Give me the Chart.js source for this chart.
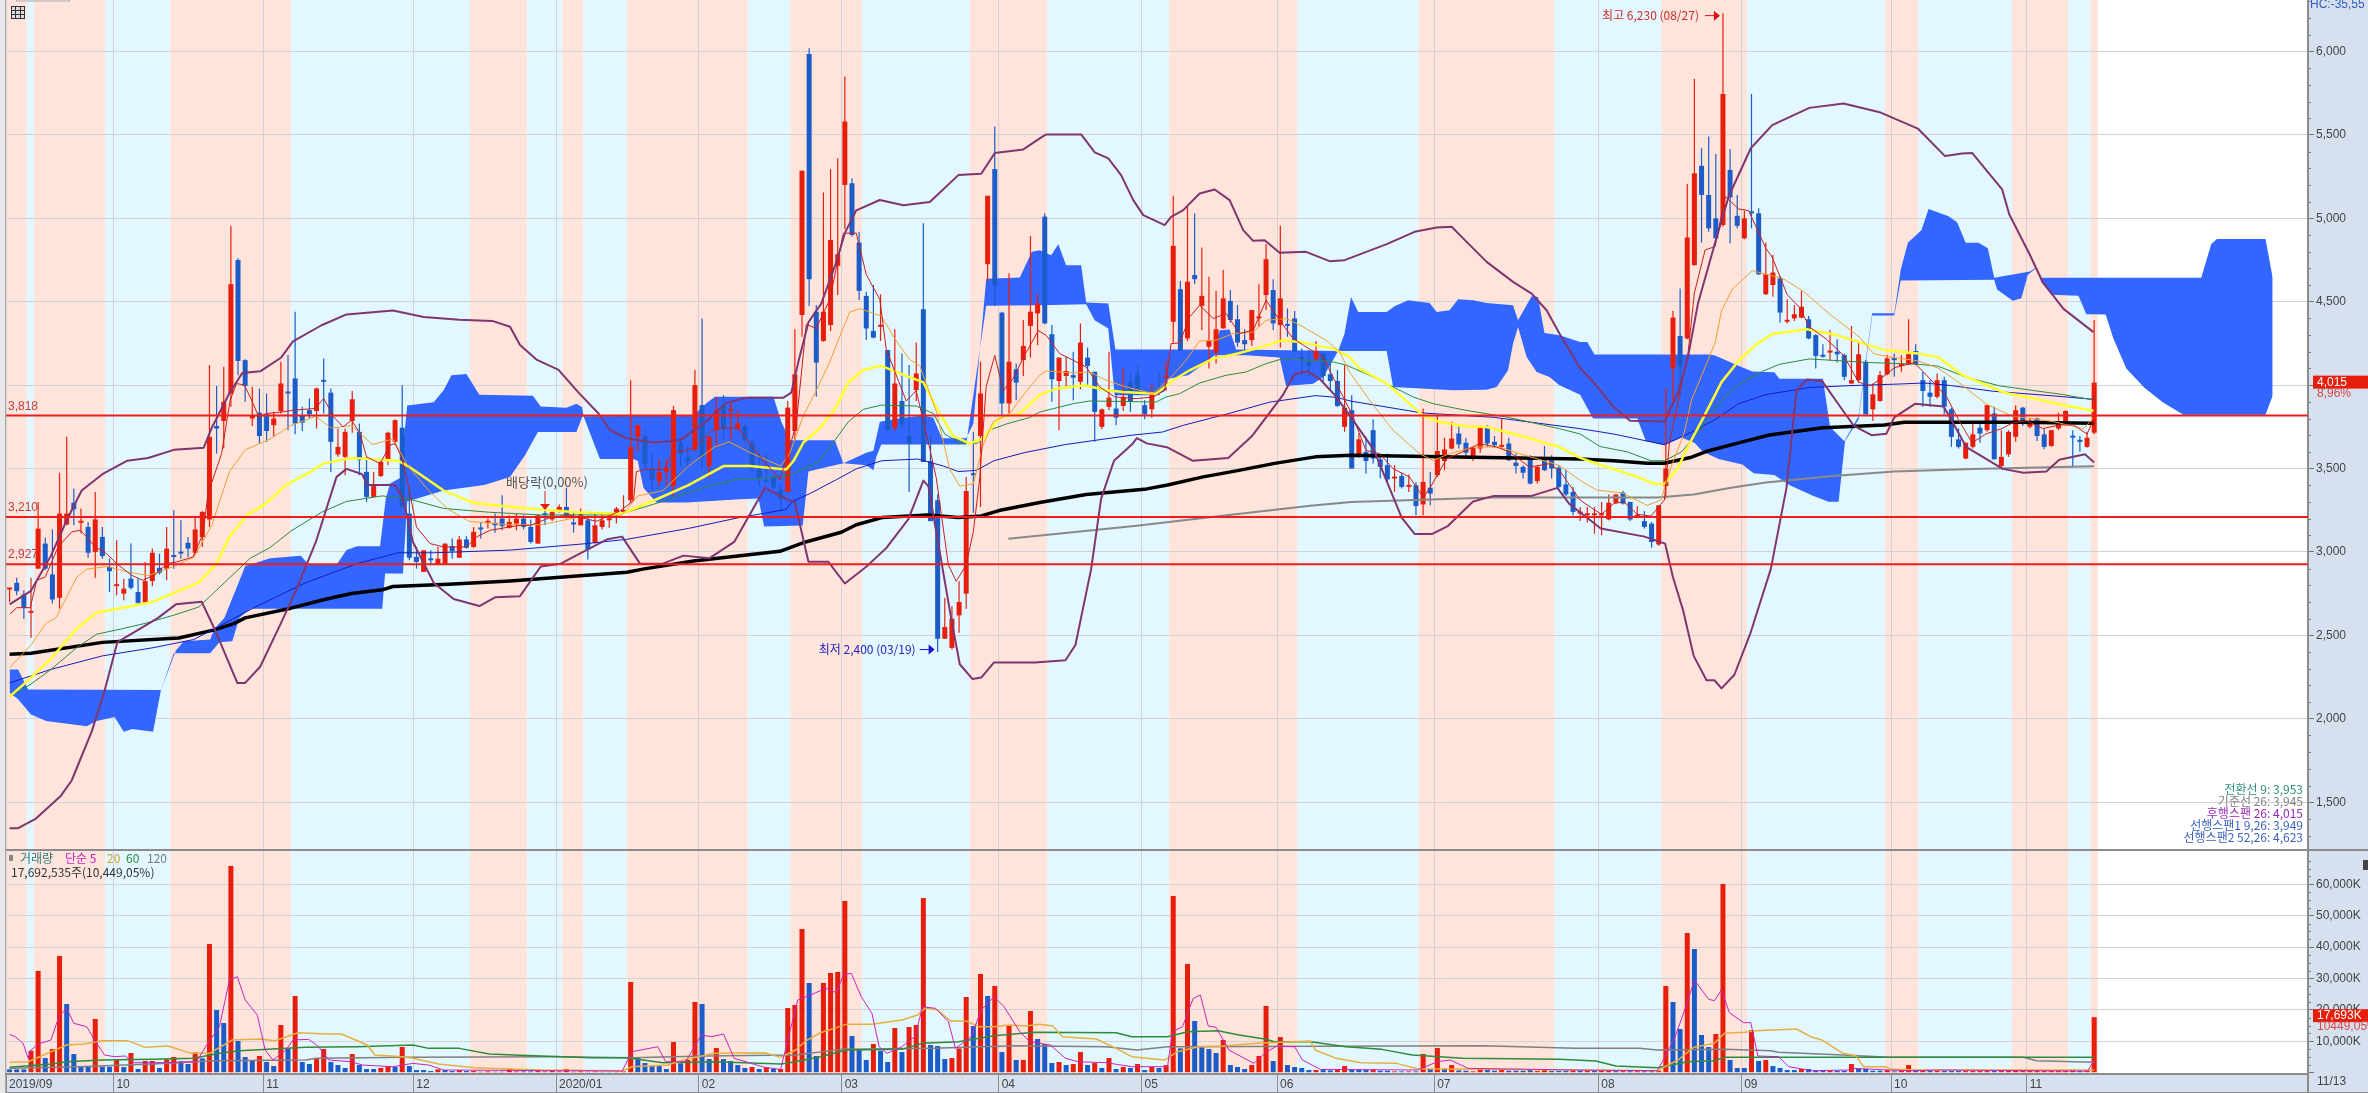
<!DOCTYPE html>
<html>
<head>
<meta charset="utf-8">
<title>chart</title>
<script src="https://cdn.jsdelivr.net/npm/chart.js@4/dist/chart.umd.min.js"></script>
<style>
html,body{margin:0;padding:0;background:#fff;overflow:hidden}
canvas{display:block}
</style>
</head>
<body>
<canvas id="c" width="2368" height="1093"></canvas>
<script>
// candles, bar 0 is the first one on the left
const opens = [2775,2815,2745,2635,2900,3050,2865,2725,3165,3295,
3175,3150,3000,3090,2910,2795,2750,2840,2760,2695,
2825,2905,2900,2975,2995,3055,2995,3090,3195,3755,
3785,3950,4750,4150,3800,3835,3825,3760,3845,3960,
4040,3820,3850,3845,4030,3955,3585,3570,3785,3720,
3480,3330,3455,3545,3660,3745,3230,2970,2880,2955,
2925,2930,3035,2965,3075,3030,3140,3175,3175,3200,
3145,3170,3200,3150,3050,3225,3195,3240,3270,3170,
3160,3190,3055,3150,3190,3235,3240,3310,3690,3695,
3490,3425,3480,3395,3655,3565,3615,3880,3515,3730,
3880,3845,3740,3755,3655,3495,3425,3450,3370,3360,
3725,4420,5985,4440,4265,4360,4715,5200,5210,4855,
4535,4325,4350,4210,3745,3905,3695,3970,4455,3545,
3310,2480,2425,2620,2750,3470,3695,4725,5295,4435,
3890,4095,4150,4355,4430,5010,4305,4025,4055,4060,
4020,4165,4080,3750,3870,3860,3875,4020,4060,3880,
3855,3975,4045,4380,4575,4280,4660,4475,4230,4195,
4340,4505,4395,4270,4270,4400,4540,4570,4360,4360,
4400,4160,4140,4155,4190,4065,4025,3750,3850,3570,
3600,3730,3555,3520,3440,3455,3390,3400,3285,3385,
3460,3545,3620,3710,3655,3570,3620,3750,3660,3630,
3650,3535,3510,3575,3425,3550,3550,3505,3405,3360,
3230,3220,3220,3220,3195,3295,3355,3300,3210,3185,
3170,3045,3395,4100,4295,4280,4720,5315,5140,5000,
4960,5290,5015,4880,5040,5030,4545,4600,4640,4380,
4400,4405,4395,4300,4175,4195,4200,4180,4010,4030,
4140,3855,3905,4065,4160,4115,4125,4205,4030,3955,
3930,4030,3855,3675,3560,3630,3745,3730,3830,3515,
3585,3690,3865,3750,3800,3705,3635,3740,3770,3695,
3665,3630,3715];
const highs = [2780,2845,2770,2845,3300,3085,3135,3475,3690,3380,
3260,3180,3360,3150,2960,3070,2840,3050,2840,2940,
3020,2990,3150,3250,3190,3090,3210,3245,4120,3995,
4110,4955,4760,4155,3990,3980,3950,3840,4140,4180,
4440,3870,3920,3985,4160,3980,3740,3740,3965,3770,
3570,3480,3545,3720,3795,4000,3370,3030,3010,3010,
3030,3050,3080,3095,3095,3150,3180,3200,3230,3340,
3220,3230,3220,3195,3225,3270,3245,3285,3385,3245,
3260,3210,3235,3240,3235,3270,3340,4030,3765,3730,
3590,3555,3555,3875,3680,3630,4090,4400,3690,3930,
3940,3895,3850,3770,3670,3595,3595,3460,3395,3905,
4335,5285,6020,4480,5155,5295,5360,5850,5240,4920,
4560,4600,4545,4210,4335,4190,4120,4255,4970,3695,
3345,2725,2675,2825,3450,3720,4140,5135,5550,4440,
4670,4130,4390,4895,4550,5030,4360,4165,4170,4200,
4370,4225,4080,3860,4200,3950,4100,4070,4120,3910,
4010,4080,4150,5135,4625,5070,5030,4825,4650,4565,
4690,4570,4480,4335,4450,4605,4845,4635,4955,4460,
4445,4220,4210,4265,4195,4130,4090,4120,3940,3710,
3690,3795,3590,3590,3520,3475,3465,3420,3860,3480,
3820,3685,3780,3750,3685,3630,3745,3760,3695,3795,
3685,3590,3520,3580,3520,3635,3580,3520,3495,3390,
3270,3270,3270,3300,3345,3345,3365,3300,3275,3245,
3180,3280,3980,4445,4580,5205,5835,5420,5490,5385,
6230,5415,5140,5045,5745,5060,4855,4780,4655,4515,
4480,4565,4415,4305,4245,4330,4275,4190,4355,4265,
4150,4010,4085,4180,4190,4180,4395,4245,4080,4030,
4070,4050,3865,3740,3655,3770,3780,3880,3870,3730,
3730,3880,3870,3805,3805,3740,3730,3835,3850,3730,
3695,3720,4390];
const lows = [2700,2740,2600,2485,2900,2890,2690,2660,3160,3160,
3110,2965,2845,2960,2760,2740,2710,2775,2680,2695,
2795,2865,2830,2900,2960,2970,2980,3030,3150,3590,
3620,3870,4060,3900,3755,3650,3660,3695,3830,3730,
3705,3725,3800,3740,3830,3480,3570,3460,3715,3460,
3300,3330,3450,3520,3640,3270,2950,2900,2880,2920,
2920,2925,2960,2965,3020,3025,3080,3140,3115,3130,
3140,3130,3135,3050,3050,3160,3185,3235,3200,3115,
3160,2955,3050,3135,3145,3170,3235,3295,3605,3495,
3370,3395,3395,3335,3515,3505,3605,3495,3445,3630,
3670,3670,3730,3655,3480,3395,3420,3370,3245,3360,
3670,4290,4475,3930,4260,4325,4540,4935,4890,4510,
4270,4280,4265,3730,3725,3745,3360,3905,3540,3185,
2400,2480,2415,2515,2660,3235,3270,4625,4475,3800,
3830,3910,4055,4165,4240,4365,3900,3730,3995,3910,
3975,3990,3660,3735,3850,3760,3845,3840,3940,3795,
3805,3940,3970,4255,4205,4265,4605,4330,4100,4130,
4340,4375,4230,4200,4235,4350,4450,4330,4225,4290,
4190,4060,4050,4150,4020,3970,3870,3720,3500,3565,
3470,3530,3440,3420,3360,3380,3360,3220,3220,3280,
3450,3490,3615,3620,3560,3545,3595,3630,3625,3620,
3545,3470,3440,3405,3410,3485,3440,3380,3335,3220,
3185,3175,3110,3100,3190,3290,3285,3185,3205,3140,
3025,3035,3320,3900,3930,4275,4715,4855,4920,4875,
4950,4850,4940,4875,4940,4660,4540,4530,4375,4370,
4385,4400,4275,4100,4165,4145,4135,4030,4005,4015,
3825,3785,3900,4060,4050,4080,4120,4120,3870,3870,
3920,3825,3630,3620,3555,3620,3655,3720,3555,3510,
3570,3660,3755,3740,3665,3615,3630,3730,3760,3515,
3600,3625,3705];
const closes = [2780,2765,2665,2640,3140,2900,2715,3230,3230,3255,
3180,2995,3195,2975,2885,2800,2780,2785,2695,2825,
2995,2875,3020,2970,2990,3020,3135,3240,3690,3740,
3900,4605,4145,3995,3815,3695,3725,3800,4010,3950,
3770,3775,3825,3980,4020,3660,3630,3720,3915,3550,
3330,3395,3540,3715,3790,3270,2965,2940,3010,2950,
2960,3050,3005,3075,3025,3120,3135,3180,3160,3155,
3180,3200,3150,3060,3220,3220,3240,3270,3220,3165,
3225,3015,3160,3190,3195,3260,3245,3630,3760,3530,
3430,3480,3505,3850,3590,3545,4000,3565,3690,3850,
3740,3850,3770,3670,3500,3440,3420,3385,3320,3865,
4065,5285,4635,4135,4440,4870,4785,5580,4900,4565,
4340,4285,4355,3730,4010,3770,3650,4070,3540,3185,
2480,2550,2600,2700,3365,3460,3950,5135,4600,3890,
4140,4015,4235,4440,4490,4370,4035,4165,4085,4045,
4255,4115,3840,3855,3925,3805,3930,3900,3945,3825,
3955,3955,4050,4835,4205,4620,4635,4535,4265,4335,
4520,4390,4255,4245,4450,4405,4755,4370,4520,4355,
4200,4155,4115,4205,4055,4025,3875,3865,3500,3675,
3545,3560,3510,3435,3445,3390,3395,3275,3420,3350,
3605,3615,3680,3645,3595,3625,3745,3650,3640,3635,
3550,3515,3475,3410,3510,3490,3500,3390,3345,3240,
3235,3225,3225,3225,3295,3345,3290,3195,3215,3150,
3060,3280,3500,4405,4110,4885,5270,5140,4940,4880,
5745,5125,4955,5000,5030,4665,4665,4675,4435,4385,
4425,4470,4280,4175,4170,4200,4185,4050,4030,4185,
3825,3945,4060,4160,4150,4120,4185,4125,3965,3930,
4030,3870,3690,3630,3655,3705,3710,3880,3555,3570,
3720,3850,3785,3770,3695,3630,3730,3785,3845,3685,
3660,3685,4015];

// volume in thousands of shares, R = red bar, B = blue bar
const volumes = [1060,1060,1060,7000,32400,4670,7540,37170,21880,5950,
1910,1910,17100,1910,1910,4040,1800,6270,1170,3720,
3720,1490,4250,4990,3610,2760,6480,4570,40990,19970,
15820,65840,10090,4990,3820,5310,3400,2120,15190,7750,
24430,3400,2760,4570,7540,3400,2440,1490,5950,2440,
1170,1170,1490,2020,1810,8180,2120,850,850,530,
1060,850,530,850,530,530,320,420,320,320,
1170,420,420,420,530,420,530,420,1170,320,
420,320,420,320,320,320,420,28890,4670,3080,
2120,2120,1170,9770,2970,4040,22510,21880,4350,7860,
4350,3720,2440,1490,1810,1170,1810,1170,1170,20600,
21560,45770,28570,5310,28570,31750,32070,54690,11680,7220,
4040,9130,7010,3400,14230,6580,14550,15190,55650,8810,
8500,4350,4670,7750,24110,14870,31440,24430,27610,6580,
14870,4040,4040,19650,10730,9130,3080,3400,2440,2760,
6580,2440,3080,1490,4670,1170,1810,1490,2760,850,
1810,1490,2440,56290,7750,34620,16460,8500,7540,6270,
10410,2440,1810,1170,2440,5310,21240,3720,11360,2440,
1810,1490,850,850,1060,740,1060,2120,1060,950,
950,1060,640,640,420,420,420,420,5950,1170,
7860,1270,2440,740,640,420,1170,850,640,1170,
640,640,640,850,530,950,530,530,640,950,
640,640,530,640,740,530,640,530,530,640,
640,640,27610,22510,13910,44500,39400,12000,8180,12320,
60110,4040,1490,1490,13590,3720,4040,2120,1490,850,
850,1170,1170,640,640,640,640,640,2760,1170,
1170,640,640,850,420,640,2440,640,640,640,
640,530,530,530,530,530,530,530,530,530,
530,850,530,530,530,530,530,530,530,850,
530,640,17690];
const volumeSides = ("BBBRRBRRBB"+"BBRBBRBRBR"+"RBRRBBRBRB"+"BRBBBRBBRB"+"RBBRRBBBRB"+"BBRRBRBBBB"+"RBBRBRBRBB"+"RRBBRRRRRB"+"RBRBBRRRBB"+"BBBRBRRBBR"
+"BBBBRBRBRR"+"RRBBRRRRBB"+"BRBBRBRRRB"+"BBRRRBRBRB"+"RBRRBBBRBR"+"RBRBRBRBRB"+"RBRRBRBBBB"+"RBBBRRRBRB"+"BBBRBBRRBB"+"BRBBRBRBRB"
+"RBRBBRRBBR"+"BBBBRRBBBR"+"BRBRRBRBRB"+"BRRBBRBBBR"+"RBBBRBRBBB"+"BRBBBRBBRB"+"BBBRBRRBRB"+"RBBBRRRRBR"+"RRRRRRRRRR"+"BRR").split("");

// overlays as [bar, value]
const ma5Line = [[0.1,2630],[1,2666],[2.9,2666],[3.8,2830],[5,2850],[6.8,3030],[8.7,3120],[9.9,3130],[10.8,3090],[12,3030],[13.6,2990],[15,2930],[17.1,2860],[18.7,2830],[20.6,2870],[22,2930],[23.4,2940],[25.7,2970],[27.1,3110],[27.8,3350],[29.7,3590],[30.9,3910],[31.8,4010],[32.9,4000],[33.9,3910],[34.9,3810],[36,3830],[38.3,3840],[39.7,3850],[42.8,3860],[44,3920],[45.4,3810],[46.7,3750],[47.9,3790],[49.1,3710],[50,3570],[51.9,3530],[53.3,3640],[54,3650],[54.9,3570],[55.8,3410],[57,3150],[58.9,3050],[60.8,3030],[64,3030],[65.4,3090],[67.3,3130],[71.5,3160],
[72.9,3159],[75.9,3209],[78.5,3221],[82.2,3184],[85.5,3246],[87.4,3308],[87.8,3482],[89,3495],[91.6,3495],[93,3594],[95.8,3619],[98.8,3743],[102.1,3743],[104.2,3619],[107.9,3433],[109.3,3632],[110.2,3768],[111.6,4365],[113,4340],[114.9,4514],[116.8,4911],[118.6,4911],[120,4663],[121.9,4514],[122.8,4215],[125.6,3905],[127,3967],[128.9,3619],[129.8,3445],[131.5,2923],[132.6,2824],[134,2923],[135,3122],[135.9,3445],[136.8,3992],[138,4178],[139.2,3967],[140.6,4041],[142,4165],[144.1,4327],
[145.2,4299],[147.1,4189],[149,4149],[150.8,4109],[152.7,3989],[154.8,3929],[157.8,3919],[160.2,3929],[161.8,3969],[162.7,4249],[163.9,4253],[165.3,4409],[166.7,4479],[168.6,4399],[170.4,4429],[172.3,4309],[174.2,4329],[176,4509],[177.9,4389],[179.8,4279],[181.6,4229],[184,4169],[185.6,4029],[188,3829],[190,3609],[191.9,3589],[193.8,3499],[196.1,3449],[198,3329],[198.9,3379],[201.3,3559],[204,3609],[205.9,3649],[208.3,3629],[210.1,3599],[212.9,3509],[215.7,3529],[217.1,3489],
[220,3311],[221.8,3258],[223,3226],[224.7,3290],[226.1,3301],[228,3226],[229.9,3215],[231.8,3311],[232.5,3654],[235.1,4189],[236,4553],[237.5,4810],[238.9,4831],[240.3,5131],[242.2,5056],[243.6,5046],[246,4821],[246.9,4767],[249,4542],[250.7,4467],[252.1,4350],[254.5,4275],[256.9,4178],[259,4018],[260.7,3996],[262.1,4039],[264,4104],[266.8,4135],[269.7,4007],[271.3,3932],[273,3793],[274.9,3654],[276.8,3707],[279.1,3740],[280.5,3772],[282.5,3787],[284.8,3740],[287.2,3761],[289.1,3761],[291,3707],[292,3804]];
const ma20Line = [[0,2306],[3,2442],[5.1,2572],[6.5,2605],[9.4,2848],[10.8,2897],[13.7,2913],[16.5,2881],[19.4,2858],[23,2913],[25.8,2969],[28.3,3157],[30.8,3482],[33,3612],[36.5,3677],[39.4,3758],[42.9,3813],[45.1,3742],[47.9,3758],[50.8,3644],[53.7,3677],[55.8,3515],[58.7,3368],[61.5,3254],[64.4,3183],[70.1,3163],[74.4,3163],[79.4,3206],[85.8,3222],[88,3336],[91.5,3368],[95.1,3515],[98.7,3628],[100.8,3660],[103.7,3596],[108,3515],
[109.3,3594],[111.2,3818],[113,3967],[114.9,4141],[116.5,4315],[117.7,4439],[119.1,4459],[122.1,4414],[124.2,4265],[126.1,4153],[127.5,4116],[129.8,3843],[131.7,3495],[133.1,3395],[135,3408],[136.4,3644],[137.8,3781],[140.1,3830],[142,3942],[144.3,4059],[145.2,4085],[149,4073],[151.3,4079],[153.6,4029],[156.4,3989],[160.2,3949],[162.7,4049],[164.8,4149],[166.7,4265],[169,4269],[171.4,4309],[174.2,4319],[176,4389],[178.9,4399],[181.2,4349],[184.4,4269],[186.3,4199],[187.7,4079],[190.5,3909],[193.8,3729],[197.5,3589],[199.4,3549],[201.7,3589],[205,3629],[208.7,3629],[211.5,3589],[217.1,3519],
[220,3429],[222.3,3371],[225.9,3354],[229.4,3279],[231.3,3311],[232.7,3504],[234.6,3718],[235.6,3911],[238.9,4253],[239.8,4446],[241.3,4574],[244.1,4686],[248.4,4639],[251.2,4564],[255,4424],[259.2,4285],[261.1,4189],[263.5,4168],[267.3,4146],[270.1,4103],[273,4018],[276.8,3889],[280.5,3814],[286.2,3782],[290.5,3739],[291.9,3804]];
const yellowLine = [[0,2133],[2.2,2215],[5.8,2361],[9.4,2540],[12.2,2637],[17.2,2676],[20.1,2702],[23.7,2767],[26.5,2816],[29,2930],[30.8,3092],[33.3,3222],[35.8,3287],[38.7,3401],[42.2,3482],[44,3531],[47.9,3563],[54.4,3547],[55.8,3515],[60.8,3368],[65.1,3293],[70.1,3271],[74.4,3254],[79.4,3238],[85.8,3229],[90.8,3319],[95.1,3401],[100,3515],[103.7,3515],[108.8,3495],[109.8,3545],[111.2,3656],[113.5,3743],[115.6,3855],[117.5,4017],[119.6,4091],[122.1,4116],[124.2,4079],[128,4017],[129.8,3868],[132.2,3694],[134.5,3649],[136.4,3681],[138.7,3806],[141.5,3830],[144.3,3942],[146.6,3979],[150.6,3999],[153.6,3969],[156,3959],[160.6,3949],[163,4029],[165.3,4089],[168.6,4159],[171.6,4185],[174.6,4219],[178.4,4269],[180.7,4259],[185.4,4219],[187.7,4169],[189.1,4099],[192.9,4009],[196.1,3889],[198,3819],[200.3,3779],[204,3753],[206.9,3749],[210.6,3709],[213.9,3669],[217.1,3629],
[220,3564],[223.3,3515],[228,3450],[230.4,3408],[231.8,3408],[233.7,3504],[235.1,3632],[237.5,3825],[239.8,4018],[242.2,4146],[244.6,4243],[246.9,4307],[251.7,4335],[255.9,4300],[260.2,4243],[262.6,4210],[267.3,4189],[270.1,4168],[273.5,4061],[277.7,3986],[279.6,3953],[283.4,3921],[287.7,3879],[291.9,3846]];
const greenLine = [[0,2133],[3,2208],[5.8,2296],[9.4,2426],[12.2,2507],[15.8,2540],[19,2572],[23,2621],[26.5,2670],[30.1,2816],[33.7,2962],[36.5,3027],[39.4,3125],[43.7,3238],[47.2,3303],[52.2,3336],[55.8,3319],[60.8,3261],[67.2,3238],[74.4,3222],[79.4,3222],[84.4,3222],[86.5,3238],[91.5,3303],[95.8,3368],[101.5,3433],[108,3449],[109.8,3470],[113.5,3545],[115.6,3669],[117.5,3781],[119.6,3855],[122.1,3880],[127,3875],[129.4,3830],[131,3706],[133.1,3656],[135.5,3649],[137.3,3731],[139.7,3768],[142.9,3806],[144.3,3839],[149,3889],[151.3,3905],[160.6,3899],[162,3929],[163.9,3949],[166.7,4013],[170.4,4059],[173.2,4079],[176,4129],[178.4,4159],[185.4,4139],[187.3,4119],[191,4049],[193.8,3989],[196.6,3929],[199.4,3889],[204,3849],[209.7,3809],[217.1,3739],
[220,3707],[222.8,3632],[226.6,3600],[229.9,3547],[231.8,3547],[234.2,3600],[236.5,3718],[239.8,3911],[242.7,4018],[245.5,4082],[247.9,4125],[252.1,4157],[260.7,4135],[267.3,4125],[270.1,4114],[273.9,4050],[278.7,3996],[287.7,3943],[291.9,3911]];
const blueLine = [[0,2215],[5.8,2296],[13,2377],[20.1,2426],[25.8,2475],[28.7,2540],[34.4,2670],[41.5,2816],[48.7,2930],[54.4,2995],[59.4,2995],[70.1,3011],[80.8,3050],[86.5,3076],[95.1,3141],[102.2,3206],[108.7,3254],[109.7,3303],[112.2,3352],[115.8,3433],[118.6,3498],[122.2,3547],[127.2,3557],[130.8,3515],[132.9,3482],[135.4,3489],[137.9,3547],[142.2,3596],[147.9,3644],[157.2,3700],[161.5,3719],[164.3,3758],[170.8,3830],[176.5,3898],[182.9,3937],[185.8,3927],[187.9,3904],[197.9,3833],[207.9,3807],[220,3739],[224.7,3707],[231.8,3643],[235.6,3718],[238.9,3793],[242.2,3889],[246,3943],[252.1,3986],[257.8,3997],[264.9,4007],[268.2,4013],[272,3997],[277.7,3964],[286.2,3936],[291.9,3915]];
const blackLine = [[0,2387],[3,2393],[13,2458],[23.7,2484],[28.7,2533],[31.5,2572],[33,2605],[39.4,2663],[44.4,2718],[47.9,2751],[52.2,2773],[53.7,2793],[61.5,2806],[70.1,2826],[86.5,2878],[88.7,2897],[95.8,2946],[107.9,3004],[111.5,3060],[116.5,3118],[118.6,3163],[122.2,3206],[128.6,3222],[132.9,3206],[136.1,3216],[138.6,3248],[144.3,3297],[150.8,3345],[159.3,3378],[162.2,3401],[167.2,3450],[172.2,3489],[177.2,3531],[182.9,3570],[187.9,3580],[220,3557],[224.7,3547],[229.4,3532],[231.8,3532],[235.6,3568],[238,3607],[242.2,3654],[246.5,3701],[254,3744],[262.6,3761],[265.4,3778],[281.5,3778],[291.9,3772]];
const greyLine = [[139.9,3079],[157.9,3157],[170.8,3222],[182.2,3277],[187.9,3300],[207.9,3326],[217.1,3326],[230.8,3326],[235.9,3345],[240.9,3384],[246,3417],[255.4,3456],[264,3482],[274.9,3498],[292,3514]];
const bollUpper = [[0,2686],[3,2767],[5.8,2978],[8,3190],[10.1,3368],[13,3466],[16.5,3547],[19.4,3563],[23,3612],[27.2,3625],[28.3,3742],[30.8,3953],[32.6,4073],[35.1,4083],[38,4164],[39.7,4262],[43.7,4359],[47.2,4424],[53.7,4447],[58,4408],[63,4392],[67.6,4385],[70.1,4350],[71.5,4240],[73.8,4153],[76.9,4091],[79.7,3955],[82.5,3830],[84.1,3731],[86.4,3681],[90.2,3656],[93.9,3669],[97.2,3768],[100.4,3893],[103.2,3925],[108.4,3925],[109.5,3955],[110.5,4141],[111.9,4377],[113.7,4489],[115.8,4737],[117,4911],[118.6,5048],[121.9,5110],[125.2,5078],[128.9,5098],[132.9,5259],[136.1,5267],[138,5391],[142,5413],[144.3,5479],[145.2,5503],[150.1,5503],[152,5395],[153.9,5359],[155.7,5259],[157.4,5109],[158.8,5019],[161.8,4959],[162.7,5009],[164.4,5049],[166.7,5149],[168.8,5173],[170.9,5109],[172.8,4929],[174.2,4865],[175.8,4869],[177.9,4793],[181.6,4799],[184.9,4743],[187,4749],[192.9,4845],[196.8,4919],[199.9,4945],[202,4949],[203.4,4889],[206.9,4739],[210.6,4619],[213.2,4549],[215.3,4449],[217.1,4309],
[220,4103],[222.3,3996],[224.7,3868],[227,3787],[231.8,3782],[233.7,3953],[235.1,4168],[236.5,4489],[238.9,4853],[240.8,5131],[243.9,5420],[246.9,5559],[252.1,5662],[256.9,5688],[262.1,5634],[267.3,5538],[271.1,5373],[273.5,5388],[274.9,5392],[279.1,5174],[280.1,5024],[282.9,4789],[284.8,4617],[287.7,4457],[291.9,4318]];
const bollLower = [[0,1344],[1.2,1344],[3.7,1402],[7.2,1539],[8.7,1630],[11.5,1923],[13.3,2166],[15.1,2459],[18.3,2540],[20.8,2605],[23.3,2686],[26.9,2702],[28.7,2540],[31.9,2215],[33,2215],[35.1,2312],[38,2572],[40.1,2767],[42.9,3060],[45.8,3450],[47.2,3498],[49.4,3466],[50.1,3401],[54,3401],[55.1,3320],[56.5,3060],[59.4,2816],[62.2,2718],[65.8,2676],[68,2728],[71.5,2735],[74.4,2913],[77.2,2930],[80.8,3011],[83.7,3076],[85.8,3092],[88.3,2930],[91.5,2930],[94.4,2978],[98,2962],[101.5,3060],[105.8,3384],[108.7,3320],[110,3296],[111.9,2941],[114.7,2941],[117,2811],[120,2911],[122.8,3023],[125.9,3197],[128,3428],[128.7,3395],[130,3072],[131.9,2600],[133.1,2327],[134.9,2238],[136.1,2247],[137.9,2338],[143.6,2338],[147.9,2351],[149.3,2442],[151.5,2897],[152.9,3320],[154.7,3547],[157.2,3644],[157.9,3683],[159.3,3651],[162.1,3628],[165.7,3547],[170.7,3563],[174,3693],[178.3,3937],[180,4067],[181.8,4083],[183.6,4034],[185.7,3937],[187.9,3807],[191.1,3612],[195,3206],[196.8,3108],[199.3,3108],[201.5,3157],[205,3303],[207.9,3336],[213.2,3336],[216.8,3384],[218.5,3287],[222.9,3141],[229,3092],[231.9,3050],[233,2848],[234.4,2653],[235.9,2377],[237.7,2231],[238.8,2231],[239.8,2182],[241.6,2264],[243.8,2507],[246.7,2897],[248.9,3384],[250.3,3969],[251.8,4034],[253.9,4024],[256.4,3872],[258.3,3758],[260.8,3700],[262.9,3709],[264,3807],[266.9,3888],[270.9,3872],[272,3791],[274.1,3628],[279.2,3498],[282.1,3475],[285.3,3482],[287.1,3553],[290.7,3586],[292,3537]];

// ichimoku cloud edges, they run 25 bars past the last candle
const cloudTop = [[0,2296],[1.2,2296],[2.6,2176],[21.2,2173],[23.3,2410],[24.4,2465],[28.1,2475],[28.7,2540],[30.1,2605],[33,2914],[36.5,2962],[40.8,2978],[41.9,2923],[45.8,2923],[47.2,3011],[48.7,3034],[51.9,3034],[52.7,3320],[53.3,3411],[54.7,3443],[55.7,3878],[59.4,3898],[60.8,3969],[61.9,4060],[64,4067],[65.8,3943],[73.3,3937],[74.4,3872],[78,3865],[79.4,3888],[80.2,3868],[80.4,3813],[95.8,3818],[97.6,3892],[98.8,3930],[107,3930],[108.1,3781],[109.3,3669],[115.6,3669],[116.8,3532],[120,3594],[121,3607],[121.9,3781],[125.2,3805],[128,3818],[129.4,3805],[130.6,3681],[134,3681],[135,3768],[136.8,4638],[141.5,4645],[143.2,4800],[144.3,4809],[145.9,4779],[146.9,4845],[148,4719],[150.1,4719],[150.8,4495],[153.9,4489],[154.9,4213],[168.8,4213],[169.5,4329],[170.9,4333],[171.8,4213],[186.1,4205],[187,4309],[187.9,4529],[188.9,4439],[192.9,4439],[194,4473],[195.9,4509],[198.9,4493],[199.9,4439],[201.7,4449],[202.9,4515],[205,4509],[206.9,4493],[210.6,4479],[211.3,4389],[213.2,4533],[214.1,4529],[215,4313],[217.1,4299],[220,4258],[221,4258],[222,4183],[238.2,4183],[238.9,4178],[241.7,4125],[244.1,4082],[247.2,4078],[247.9,4039],[254,4039],[255,3750],[257,3664],[259,3814],[260,4146],[260.9,4431],[264,4431],[264.9,4692],[265.9,4853],[267.8,4928],[268.8,5056],[271.6,5013],[272.8,4977],[274,4853],[275.8,4853],[277.1,4821],[278,4643],[283,4681],[283.9,4707],[284.6,4643],[307,4643],[308.4,4846],[309.2,4876],[316,4876],[317,4643]];
const cloudBottom = [[0,2156],[1.2,2117],[3,2026],[5.1,1987],[10.8,1955],[12.2,1987],[14.7,2010],[16,1922],[17.2,1939],[20.1,1922],[21.2,2173],[22.2,2296],[23,2393],[28.1,2393],[29.4,2459],[31.2,2465],[32.2,2605],[33.7,2660],[52.2,2660],[52.6,2871],[55.1,2871],[55.7,3303],[60.8,3368],[66.5,3401],[70.1,3449],[72.2,3579],[74,3719],[79.4,3719],[80.2,3807],[80.4,3813],[82.7,3557],[87.4,3557],[88,3545],[88.8,3383],[90.6,3296],[94.8,3296],[102.3,3316],[104.9,3321],[105.7,3152],[111.1,3159],[111.9,3482],[113,3495],[116.8,3532],[120,3520],[121,3490],[121.4,3569],[122.1,3644],[134,3644],[136.8,4476],[144.3,4479],[150.8,4485],[152,4389],[153.9,4339],[154.8,3939],[160.6,3939],[162,3969],[162.3,4039],[165.1,4059],[166.7,4109],[168.8,4179],[173.2,4179],[177.9,4165],[178.8,3995],[182.6,4009],[184,4049],[185.1,4129],[186.1,4205],[192.9,4205],[193.8,3989],[202.2,3969],[206.9,3973],[208.3,3989],[209.9,4089],[210.6,4249],[211.3,4349],[212.5,4169],[213.9,4079],[215.7,4049],[217.1,3999],[220,3943],[221.8,3800],[228,3800],[229.2,3665],[231.8,3639],[234.2,3686],[236,3654],[237.2,3600],[239.4,3557],[242.7,3525],[244.3,3472],[247.2,3461],[249.3,3401],[252.6,3337],[254.8,3301],[256.2,3301],[257.1,3664],[259,3795],[260,4125],[260.9,4418],[264,4418],[264.9,4628],[278,4632],[278.4,4574],[280.6,4506],[281.8,4521],[282.7,4660],[283.9,4703],[284.6,4617],[286,4542],[289.8,4536],[290.9,4425],[293.6,4424],[294.7,4278],[296.5,4099],[299,3986],[301.6,3898],[304.5,3823],[316,3823],[317,3937]];

const volMa5 = [[0,12210],[0.8,11470],[1.9,9350],[2.6,4570],[3,7220],[4,9130],[5.8,10410],[6.9,17840],[8,20500],[9,15720],[10.8,14660],[12.2,9350],[13.3,5630],[14.7,5100],[16.2,5310],[17.4,3190],[21.5,3190],[26.2,3500],[27.6,8810],[29.4,14660],[30.8,29520],[31.9,30590],[33,23150],[34.7,18370],[35.8,7220],[36.9,4040],[38.7,7220],[39.7,10410],[41.9,10620],[43.3,8280],[44.7,4040],[47.9,3500],[49.4,2440],[53.7,1910],[56.5,2970],[58.7,2440],[60.8,850],[85.8,530],[87.2,6690],[90.8,8280],[91.9,3500],[94.7,3500],[96.9,12000],[98.3,11470],[100,12320],[101.5,4570],[105.8,1700],[108,1060],[110.4,23150],[112.2,24740],[114.3,26870],[115.8,25490],[116.8,31120],[117.9,31650],[119.3,24210],[120.8,18900],[121.8,8280],[122.9,6160],[125,8280],[126.8,11470],[127.9,21030],[129.7,20500],[131.5,16250],[132.5,7750],[134.7,11470],[136.1,19970],[137.9,24210],[139.3,21030],[141.5,13060],[142.9,9880],[145.8,8810],[147.9,4570],[149.7,3500],[153.6,3190],[157.2,1910],[162.2,1910],[162.9,13060],[164.3,14660],[165.8,23680],[166.8,24740],[167.9,14870],[169,14440],[170.8,7220],[174.3,2970],[175.8,6160],[177.5,8500],[180,8280],[181.1,4040],[183.6,1060],[197.2,850],[200,3500],[201.8,4040],[204.3,1380],[219.3,850],[230.8,640],[231.9,5100],[233.3,11470],[234.8,21030],[236,29520],[238,23360],[238.8,22940],[239.8,26340],[240.9,19120],[242.9,15930],[243.9,15930],[244.9,5310],[247.8,5100],[249.2,1910],[252.5,640],[257.5,850],[258.3,1380],[263.3,850],[266.2,640],[270.2,850],[291.1,530],[292,4040]];
const volMa20 = [[0,3290],[2.6,3500],[5.8,6690],[8,8810],[10.4,9130],[13,10200],[16.5,10200],[19,8070],[22.2,8500],[25.4,6160],[28,6160],[31.2,10410],[35.1,10730],[37.2,10200],[40.4,12740],[44.4,12320],[46.5,12320],[50.1,8810],[51.2,5630],[55.1,5100],[56.5,4570],[60.1,2760],[65.1,1590],[74.4,850],[85.8,640],[87.2,1910],[92.2,2440],[94.4,4040],[98.7,6160],[105.8,6370],[108,4890],[110.1,7220],[111.5,10090],[113.6,12740],[117.2,15400],[120.8,15400],[125,16780],[127.2,18370],[128.3,20710],[130,19970],[131.8,16460],[134,16460],[135.8,14660],[137.9,14660],[140,15190],[142.2,14870],[144.3,15400],[146.1,14870],[147.5,11470],[152.2,10730],[155,7750],[157.2,5100],[161.8,4040],[163.6,6690],[166.5,8280],[170,8500],[174.7,9350],[182.2,10090],[182.9,7220],[185.8,4570],[189.3,3190],[194.3,2970],[197.2,1270],[207.9,1060],[219.3,850],[230.8,640],[233.7,4040],[235.9,8070],[238.8,9350],[240.2,12530],[243.1,12850],[244.5,13380],[250.3,13910],[252.5,11260],[253.9,10410],[256.8,6160],[258.6,5420],[259.7,1910],[262.6,1910],[263.7,1060],[267.6,850],[292,850]];
const volMa60 = [[0,1700],[5.8,2760],[8,3500],[13,4040],[20.1,4250],[25.8,4570],[29.4,6160],[32.2,7010],[41.5,8070],[48.7,8280],[56.5,8810],[58.7,7750],[63,7750],[67.2,5950],[71.5,5520],[81.5,4780],[86.5,4780],[91.5,3190],[98.7,3500],[108,2760],[109.3,3190],[113.6,5100],[117.2,7220],[125,7430],[127.9,9350],[132.9,9880],[137.9,11790],[143.6,12850],[155,12740],[157.2,11470],[162.2,11470],[165,13060],[169.3,13380],[172.2,12000],[175.8,10730],[177.2,9880],[182.2,9880],[187.2,8280],[192.2,7430],[196.5,5630],[203.6,4570],[217.1,4250],[222.2,3720],[225,2120],[230.8,1590],[235.1,3500],[238.8,3820],[240.2,4890],[292,4890]];
const volMa120 = [[0,1380],[9.4,1910],[20.1,2760],[28.7,3820],[41.5,4040],[42.9,4570],[55.8,4890],[76.5,5100],[87.2,4780],[97.2,5310],[110.1,5630],[116.5,7430],[129.3,7750],[140.8,8600],[153.6,8280],[157.9,7220],[162.2,8280],[206.5,8600],[219.3,7750],[228.3,7750],[230.8,7220],[240.2,7430],[246.7,7010],[247.8,6480],[256.8,5630],[263.3,4890],[282.1,4890],[283.9,3820],[292,3290]];

const priceLevels = [3818,3210,2927];
const levelLabels = ["3,818","3,210","2,927"];
const monthBars = [-0.5,14.55,35.55,56.55,76.55,96.55,116.55,138.55,158.55,177.55,199.55,222.55,242.55,263.55,282.55];
const monthLabels = ["2019/09","10","11","12","2020/01","02","03","04","05","06","07","08","09","10","11"];
// stripe edges in bars, starts pink then swaps every edge
const stripeEdges = [-0.5,2.4,3.4,13.4,22.5,39.4,64.5,72.5,77.4,80.4,86.5,103.4,109.4,119.4,134.5,145.4,162.4,180.4,197.4,216.4,231.4,243.4,262.7,267.4,280.5,288.4,291.5,292.5];
const ichimokuLegend = [["전환선 9: 3,953","#2e8f7a"],["기준선 26: 3,945","#808080"],["후행스팬 26: 4,015","#9a28b8"],["선행스팬1 9,26: 3,949","#3a62c0"],["선행스팬2 52,26: 4,623","#3a62c0"]];

const RED = "#e81e0c", BLUE = "#1c5cc8";
const KR = '"Noto Sans CJK KR","Liberation Sans",sans-serif';
const NUM = '"Liberation Sans",sans-serif';
const xMax = 321.95;

const pts = arr => arr.map(p => ({x:p[0], y:p[1]}));
const up = opens.map((o,i) => closes[i] >= o);
const candleColors = up.map(u => u ? RED : BLUE);

function line(label, data, color, width, order, yAxisID) {
  return {type:"line", label, data:pts(data), borderColor:color, borderWidth:width, pointRadius:0, tension:0, fill:false, order, yAxisID:yAxisID||"y", borderJoinStyle:"round"};
}

const datasets = [
  {type:"line", label:"cloudBottom", data:pts(cloudBottom), borderWidth:0, pointRadius:0, tension:0, fill:false, order:40, yAxisID:"y"},
  {type:"line", label:"cloudTop", data:pts(cloudTop), borderWidth:0, pointRadius:0, tension:0, fill:0, backgroundColor:"#3366ff", order:40, yAxisID:"y"},
  {type:"bar", label:"wick", data:lows.map((l,i)=>({x:i,y:[l,highs[i]]})), backgroundColor:candleColors, maxBarThickness:1.2, grouped:false, barPercentage:1, order:31, yAxisID:"y"},
  {type:"bar", label:"body", data:opens.map((o,i)=>({x:i,y:[o,closes[i]]})), backgroundColor:candleColors, maxBarThickness:5, minBarLength:2, grouped:false, barPercentage:1, order:30, yAxisID:"y"},
  line("grey", greyLine, "#888888", 2, 12),
  line("black", blackLine, "#000000", 3.5, 11),
  line("blue", blueLine, "#1a1ab8", 1, 10),
  line("green", greenLine, "#2e8b3c", 1, 9),
  line("yellow", yellowLine, "#ffff2e", 2.5, 8),
  line("ma20", ma20Line, "#f0a030", 1, 7),
  line("ma5", ma5Line, "#c81e1e", 1, 6),
  line("bollUpper", bollUpper, "#7f3570", 2, 5),
  line("bollLower", bollLower, "#7f3570", 2, 5),
  {type:"bar", label:"volume", data:volumes.map((v,i)=>({x:i,y:v})), backgroundColor:volumeSides.map(s=>s==="R"?RED:BLUE), maxBarThickness:5, grouped:false, barPercentage:1, order:30, yAxisID:"vol"},
  line("vma120", volMa120, "#808080", 1.5, 9, "vol"),
  line("vma60", volMa60, "#2e8b3c", 1.5, 8, "vol"),
  line("vma20", volMa20, "#e6b040", 1.5, 7, "vol"),
  line("vma5", volMa5, "#cc22bb", 1, 6, "vol")
];
priceLevels.forEach(v => datasets.push(line("level"+v, [[-0.5,v],[xMax,v]], "#ee1c1c", 2, 1)));

// stripes and the panels round the plot, under the grid
const backdrop = {
  id:"backdrop",
  beforeDraw(chart) {
    const {ctx, chartArea:a, scales} = chart;
    ctx.save();
    ctx.fillStyle = "#ffffff";
    ctx.fillRect(0,0,chart.width,chart.height);
    ctx.fillStyle = "#e8e8e8";
    ctx.fillRect(0,0,a.left-1,chart.height);
    ctx.fillStyle = "#a8a8a8";
    ctx.fillRect(a.left-1,0,1,chart.height);
    for (let i=0;i<stripeEdges.length-1;i++) {
      const x0 = scales.x.getPixelForValue(stripeEdges[i]);
      const x1 = scales.x.getPixelForValue(stripeEdges[i+1]);
      ctx.fillStyle = i%2===0 ? "#ffe4dc" : "#e2f7ff";
      ctx.fillRect(x0,a.top,x1-x0,a.bottom-a.top);
    }
    ctx.fillStyle = "#d6e0ee";
    ctx.fillRect(a.right,0,chart.width-a.right,chart.height);
    ctx.fillRect(a.left,a.bottom,chart.width-a.left,chart.height-a.bottom);
    ctx.restore();
  }
};

function txt(ctx, s, x, y, color, font, align) {
  ctx.font = font;
  ctx.fillStyle = color;
  ctx.textAlign = align || "left";
  ctx.textBaseline = "middle";
  ctx.fillText(s, x, y);
}
function arrowRight(ctx, x0, x1, y, color) {
  ctx.strokeStyle = color; ctx.fillStyle = color; ctx.lineWidth = 1;
  ctx.beginPath(); ctx.moveTo(x0,y+0.5); ctx.lineTo(x1-4,y+0.5); ctx.stroke();
  ctx.beginPath(); ctx.moveTo(x1,y+0.5); ctx.lineTo(x1-6,y-4.5); ctx.lineTo(x1-6,y+5.5); ctx.fill();
}

const labels = {
  id:"labels",
  afterDraw(chart) {
    const {ctx, chartArea:a, scales} = chart;
    const sx = scales.x, sy = scales.y, sv = scales.vol;
    ctx.save();
    // pane divider and axis frame
    ctx.fillStyle = "#8c8c8c";
    ctx.fillRect(a.left, sv.top-1, chart.width-a.left, 2);
    ctx.fillRect(a.left, chart.height-1, chart.width-a.left, 1);
    ctx.fillRect(a.right-1, a.bottom, 2, chart.height-a.bottom);
    // small axis ticks
    ctx.fillStyle = "#777";
    sy.ticks.forEach(t => { if (t.value%500!==0) ctx.fillRect(a.right+1, Math.round(sy.getPixelForValue(t.value)), 2, 1); });
    sv.ticks.forEach(t => { if (t.value%10000!==0) ctx.fillRect(a.right+1, Math.round(sv.getPixelForValue(t.value)), 2, 1); });

    priceLevels.forEach((v,i) => txt(ctx, levelLabels[i], 8, sy.getPixelForValue(v)-9, "#c83a3a", "12px "+NUM));

    // dividend mark
    const divX = sx.getPixelForValue(75);
    txt(ctx, "배당락(0,00%)", divX+2, 482, "#555", "13px "+KR, "center");
    ctx.strokeStyle = RED; ctx.fillStyle = RED; ctx.lineWidth = 1;
    ctx.beginPath(); ctx.moveTo(divX,491); ctx.lineTo(divX,505); ctx.stroke();
    ctx.beginPath(); ctx.moveTo(divX-5,504); ctx.lineTo(divX+5,504); ctx.lineTo(divX,510); ctx.fill();

    // low and high marks
    const lowX = sx.getPixelForValue(130), lowY = sy.getPixelForValue(2400);
    txt(ctx, "최저 2,400 (03/19)", lowX-22, lowY-3, "#2222c0", "12px "+KR, "right");
    arrowRight(ctx, lowX-18, lowX-3, lowY-3, "#1515d0");
    const highX = sx.getPixelForValue(240), highY = sy.getPixelForValue(6230);
    txt(ctx, "최고 6,230 (08/27)", highX-24, highY+2, "#d02a2a", "12px "+KR, "right");
    arrowRight(ctx, highX-18, highX-3, highY+2, "#e01010");

    ichimokuLegend.forEach((row,i) => txt(ctx, row[0], 2303, 789+i*12, row[1], "12px "+KR, "right"));

    // volume header
    ctx.fillStyle = "#888"; ctx.fillRect(9,855,4,6);
    txt(ctx, "거래량", 20, 858, "#2e7b7b", "12px "+KR);
    txt(ctx, "단순 5", 65, 858, "#cc22bb", "12px "+KR);
    txt(ctx, "20", 107, 858, "#d8a030", "12px "+KR);
    txt(ctx, "60", 126, 858, "#2e8b3c", "12px "+KR);
    txt(ctx, "120", 147, 858, "#777", "12px "+KR);
    txt(ctx, "17,692,535주(10,449,05%)", 11, 872, "#333", "12px "+KR);

    // current value tags on the axes
    const lastY = sy.getPixelForValue(4015);
    ctx.fillStyle = RED; ctx.fillRect(2313, lastY-7, 55, 13);
    txt(ctx, "4,015", 2317, lastY, "#fff", "12px "+NUM);
    txt(ctx, "8,96%", 2317, lastY+11, "#d84848", "12px "+NUM);
    const lastV = sv.getPixelForValue(17690);
    ctx.fillStyle = RED; ctx.fillRect(2313, lastV-8, 55, 13);
    txt(ctx, "17,693K", 2317, lastV-1, "#fff", "12px "+NUM);
    txt(ctx, "10449,05%", 2317, lastV+10, "#d84848", "12px "+NUM);

    txt(ctx, "HC:-35,55", 2310, 5, "#3060c0", "12px "+NUM);
    txt(ctx, "11/13", 2317, 1082, "#444", "12px "+NUM);

    // toolbar bits
    ctx.strokeStyle = "#333"; ctx.fillStyle = "#dcdcdc";
    ctx.fillRect(11.5,6.5,13,12); ctx.strokeRect(11.5,6.5,13,12);
    ctx.beginPath();
    [15.5,20.5].forEach(x => { ctx.moveTo(x,7); ctx.lineTo(x,18); });
    [10.5,14.5].forEach(y => { ctx.moveTo(12,y); ctx.lineTo(24,y); });
    ctx.stroke();
    ctx.strokeStyle = "#aaa"; ctx.strokeRect(16.5,-3,53,4);
    ctx.fillStyle = "#444"; ctx.fillRect(2363,860,5,10);
    ctx.restore();
  }
};

// tick labels must not push the plot in from the canvas edge
function noAxisPadding(axis) {
  axis.paddingTop = 0; axis.paddingBottom = 0; axis.paddingLeft = 0; axis.paddingRight = 0;
}
function stepTicks(axis, from, to, step) {
  axis.ticks = [];
  for (let v = from; v <= to; v += step) axis.ticks.push({value:v});
}

new Chart(document.getElementById("c").getContext("2d"), {
  type:"bar",
  data:{datasets},
  plugins:[backdrop, labels],
  options:{
    responsive:false,
    animation:false,
    devicePixelRatio:1,
    layout:{autoPadding:false, padding:{left:6,right:0,top:0,bottom:0}},
    plugins:{legend:{display:false}, tooltip:{enabled:false}, title:{display:false}},
    scales:{
      x:{
        type:"linear", min:-0.5, max:xMax, offset:false,
        afterBuildTicks(axis){ axis.ticks = monthBars.map(value => ({value})); },
        afterFit(axis){ axis.height = 19; noAxisPadding(axis); },
        grid:{color:"#d2d2d2", offset:false, tickLength:19, tickColor:"#8c8c8c"},
        border:{color:"#8c8c8c", width:2},
        ticks:{autoSkip:false, maxRotation:0, minRotation:0, align:"start", labelOffset:3, padding:-16, color:"#444", font:{family:"Liberation Sans", size:12},
          callback(v,i){ return monthLabels[i]; }}
      },
      y:{
        type:"linear", position:"right", stack:"panes", stackWeight:850, min:1213.4, max:6308.7,
        afterBuildTicks(axis){ stepTicks(axis, 1300, 6300, 100); },
        afterFit(axis){ axis.width = 60; noAxisPadding(axis); },
        grid:{color:c => c.tick && c.tick.value%500===0 ? "#d2d2d2" : "rgba(0,0,0,0)", tickLength:6, tickColor:c => c.tick && c.tick.value%500===0 ? "#777" : "rgba(0,0,0,0)"},
        border:{color:"#8c8c8c", width:2},
        ticks:{autoSkip:false, padding:2, color:"#444", font:{family:"Liberation Sans", size:12},
          callback(v){ return v%500===0 ? v.toLocaleString("en-US") : ""; }}
      },
      vol:{
        type:"linear", axis:"y", position:"right", stack:"panes", stackWeight:224, min:-414, max:70924,
        afterBuildTicks(axis){ stepTicks(axis, 0, 67500, 2500); },
        afterFit(axis){ axis.width = 60; noAxisPadding(axis); },
        grid:{color:c => c.tick && c.tick.value%10000===0 && c.tick.value>0 ? "#d2d2d2" : "rgba(0,0,0,0)", tickLength:6, tickColor:c => c.tick && c.tick.value%10000===0 ? "#777" : "rgba(0,0,0,0)"},
        border:{color:"#8c8c8c", width:2},
        ticks:{autoSkip:false, padding:2, color:"#444", font:{family:"Liberation Sans", size:12},
          callback(v){ return v%10000===0 && v>0 ? v.toLocaleString("en-US")+"K" : ""; }}
      }
    }
  }
});
</script>
</body>
</html>
